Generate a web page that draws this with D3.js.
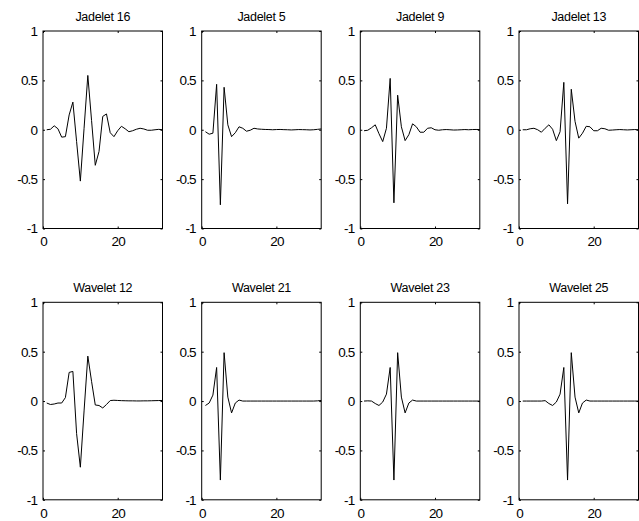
<!DOCTYPE html>
<html lang="en">
<head>
  <meta charset="UTF-8">
  <title>Jadelets and Wavelets</title>
  <script src="https://d3js.org/d3.v7.min.js"></script>
  <style>
    body {
      margin: 0;
      background: #fff;
      font-family: "Liberation Sans", Arial, Helvetica, sans-serif;
    }
    svg { display: block; }
  </style>
</head>
<body>
<svg id="chart" width="639" height="521"></svg>

<script>
// Panel titles, row by row
const titles = ["Jadelet 16", "Jadelet 5", "Jadelet 9", "Jadelet 13",
                "Wavelet 12", "Wavelet 21", "Wavelet 23", "Wavelet 25"];

// Sample values at n = 1..32
const jadelet16 = [0, 0.005, 0.04, 0.01, -0.075, -0.07, 0.15, 0.28, -0.12, -0.52, 0.015, 0.55,
  0.095, -0.36, -0.22, 0.135, 0.16, -0.03, -0.07, -0.01, 0.035, 0.01, -0.02, -0.01,
  0.005, 0.015, 0.008, -0.005, -0.005, 0, 0.004, 0];
const jadelet5 = [-0.02, -0.045, -0.035, 0.46, -0.76, 0.43, 0.05, -0.07, -0.03, 0.03, 0.015, -0.015,
  -0.005, 0.015, 0.008, 0.005, 0.003, 0.002, 0, 0.002, 0.003, 0.001, 0, -0.002,
  0, 0.002, 0.001, 0, -0.002, 0, 0.004, 0.008];
const jadelet9 = [-0.01, -0.005, 0.02, 0.05, -0.04, -0.12, 0.015, 0.52, -0.74, 0.35, 0.03, -0.11,
  -0.05, 0.06, 0.03, -0.025, -0.025, 0.015, 0.02, 0, -0.005, 0, 0.002, 0,
  -0.003, -0.002, 0, 0.002, 0, 0.002, 0.003, 0.002];
const jadelet13 = [0, 0, 0.01, 0.015, 0, -0.025, 0.015, 0.05, 0.005, -0.11, -0.02, 0.48,
  -0.75, 0.41, 0.085, -0.085, -0.035, 0.035, 0.03, -0.01, -0.01, 0.015, 0.01, -0.005,
  -0.003, 0, 0.002, 0, -0.002, 0, 0.002, 0];
const wavelet12 = [-0.02, -0.035, -0.03, -0.02, -0.02, 0.035, 0.29, 0.3, -0.33, -0.67, -0.1, 0.455,
  0.2, -0.04, -0.045, -0.07, -0.035, 0.005, 0.008, 0.006, 0.004, 0.003, 0.002, 0.002,
  0.001, 0.001, 0.002, 0.002, 0.003, 0.004, 0.005, 0.006];
const wavelet21 = [-0.045, -0.02, 0.06, 0.34, -0.8, 0.49, 0.04, -0.12, -0.02, 0.01, 0, 0,
  0, 0, 0, 0, 0, 0, 0, 0, 0, 0, 0, 0,
  0, 0, 0, 0, 0, 0, 0.002, 0.006];
const wavelet23 = [0, 0.002, 0, -0.025, -0.045, -0.01, 0.07, 0.34, -0.8, 0.49, 0.04, -0.12,
  -0.02, 0.01, 0, 0, 0, 0, 0, 0, 0, 0, 0, 0,
  0, 0, 0, 0, 0, 0, 0, 0];
const wavelet25 = [0, 0, 0, 0, 0, 0, 0.004, -0.025, -0.045, -0.01, 0.07, 0.34,
  -0.8, 0.49, 0.04, -0.12, -0.02, 0.01, 0, 0, 0, 0, 0, 0,
  0, 0, 0, 0, 0, 0, 0, 0];

const series = [jadelet16, jadelet5, jadelet9, jadelet13,
                wavelet12, wavelet21, wavelet23, wavelet25];

const xTicks = [0, 20];
const yTicks = [-1, -0.5, 0, 0.5, 1];

// Layout of the 2 x 4 grid (MATLAB subplot look)
const colLeft = [43, 201.7, 360.3, 519];
const rowTop = [31, 302.3];
const panelW = 119.5;
const panelH = 197.5;
const tick = 2;

const svg = d3.select("#chart");

series.forEach((values, i) => {
  const left = colLeft[i % 4];
  const top = rowTop[Math.floor(i / 4)];

  const x = d3.scaleLinear().domain([0, 32]).range([0, panelW]);
  const y = d3.scaleLinear().domain([-1, 1]).range([panelH, 0]);

  const g = svg.append("g").attr("transform", `translate(${left},${top})`);

  // frame
  g.append("rect")
    .attr("width", panelW)
    .attr("height", panelH)
    .attr("fill", "none")
    .attr("stroke", "#000")
    .attr("stroke-width", 1);

  // bottom axis with labels, inward ticks
  const bottom = g.append("g")
    .attr("transform", `translate(0,${panelH})`)
    .call(d3.axisBottom(x).tickValues(xTicks).tickSizeInner(-tick).tickSizeOuter(0).tickPadding(5));
  // top mirror ticks
  const topAx = g.append("g")
    .call(d3.axisTop(x).tickValues(xTicks).tickSizeInner(-tick).tickSizeOuter(0).tickFormat(""));
  // left axis with labels
  const leftAx = g.append("g")
    .call(d3.axisLeft(y).tickValues(yTicks).tickSizeInner(-tick).tickSizeOuter(0).tickPadding(6)
      .tickFormat(d => String(d)));
  // right mirror ticks
  const rightAx = g.append("g")
    .attr("transform", `translate(${panelW},0)`)
    .call(d3.axisRight(y).tickValues(yTicks).tickSizeInner(-tick).tickSizeOuter(0).tickFormat(""));

  [bottom, topAx, leftAx, rightAx].forEach(ax => {
    ax.select(".domain").remove();
    ax.selectAll(".tick line").attr("stroke", "#000");
    ax.selectAll(".tick text")
      .attr("fill", "#000")
      .style("font-family", "'Liberation Sans', Arial, sans-serif")
      .style("font-size", "13.5px")
      .style("letter-spacing", "-0.9px");
  });
  bottom.selectAll(".tick text").attr("dy", "0.95em");

  // the signal
  const line = d3.line()
    .x((d, k) => x(k + 1))
    .y(d => y(d));

  g.append("path")
    .datum(values)
    .attr("fill", "none")
    .attr("stroke", "#000")
    .attr("stroke-width", 1)
    .attr("stroke-linejoin", "round")
    .attr("d", line);

  // title
  g.append("text")
    .attr("x", panelW / 2)
    .attr("y", -10.5)
    .attr("text-anchor", "middle")
    .style("font-size", "12.5px")
    .style("letter-spacing", "-0.3px")
    .text(titles[i]);
});
</script>
</body>
</html>
